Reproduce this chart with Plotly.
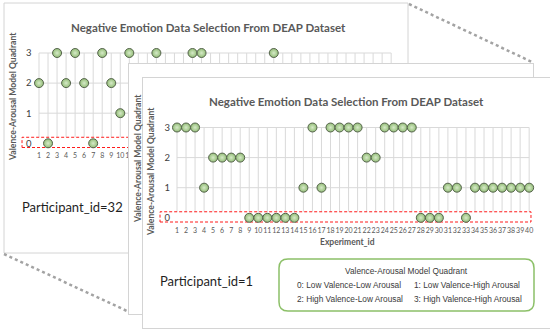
import plotly.graph_objects as go

W, H = 550, 332

# ---------------- data ----------------
experiments = list(range(1, 41))
quadrant_levels = [0, 1, 2, 3]
tick_labels = [str(e) for e in experiments]

# participant 1 (front chart) – quadrant per experiment
participant_1 = [3, 3, 3, 1, 2, 2, 2, 2, 0, 0,
                 0, 0, 0, 0, 1, 3, 1, 3, 3, 3,
                 3, 2, 2, 3, 3, 3, 3, 0, 0, 0,
                 1, 1, 0, 1, 1, 1, 1, 1, 1, 1]
# participant 32 (back chart) – only the visible points; hidden ones None
participant_32 = [2, 0, 3, 2, 3, 2, 0, 3, 2, 1,
                  3, None, None, 3, None, None, None, 3, 3, None,
                  None, None, None, None, None, None, 3, None, None, None,
                  None, None, None, None, None, None, None, None, None, None]

title_text = "Negative Emotion Data Selection From DEAP Dataset"
ytitle_text = "Valence-Arousal Model Quadrant"
xtitle_text = "Experiment_id"
legend_title = "Valence-Arousal Model Quadrant"
legend_items = ["0: Low Valence-Low Arousal", "1: Low Valence-High Arousal",
                "2: High Valence-Low Arousal", "3: High Valence-High Arousal"]

# ---------------- geometry helpers ----------------
SPX, SPY = 9.03, 30.1
XR = [-1.0, 40.4]
YR = [-0.2, 3.2]
BOX_X = [-0.88, 40.2]
BOX_Y = [-0.14, 0.2]


def px(x):
    return x / W


def py(y):
    return 1 - y / H


def dom_x(a, b):
    return [a / W, b / W]


def dom_y(top, bottom):
    return [1 - bottom / H, 1 - top / H]


def chart_domain(x1, y3):
    left = x1 - (1 - XR[0]) * SPX
    right = x1 + (XR[1] - 1) * SPX
    top = y3 - (YR[1] - 3) * SPY
    bottom = y3 + (3 - YR[0]) * SPY
    return dom_x(left, right), dom_y(top, bottom)


GRID = "#d9d9d9"
TXT = "#595959"
FONT = "Lato"

fig = go.Figure()


def add_chart(values, xa, ya):
    xs, ys = [], []
    for e in experiments:
        xs += [e, e, None]
        ys += [min(quadrant_levels), max(quadrant_levels), None]
    for q in quadrant_levels:
        xs += [experiments[0], experiments[-1], None]
        ys += [q, q, None]
    fig.add_trace(go.Scatter(x=xs, y=ys, mode="lines", xaxis=xa, yaxis=ya,
                             line=dict(color=GRID, width=1), hoverinfo="skip",
                             showlegend=False))
    fig.add_trace(go.Scatter(x=[BOX_X[0], BOX_X[1], BOX_X[1], BOX_X[0], BOX_X[0]],
                             y=[BOX_Y[0], BOX_Y[0], BOX_Y[1], BOX_Y[1], BOX_Y[0]],
                             mode="lines", fill="toself", fillcolor="white",
                             line=dict(color="#ff1a1a", width=1, dash="3px,2px"),
                             xaxis=xa, yaxis=ya, hoverinfo="skip", showlegend=False))
    fig.add_trace(go.Scatter(x=experiments, y=values, mode="markers",
                             xaxis=xa, yaxis=ya, cliponaxis=False,
                             marker=dict(size=9, color="#93bd77",
                                         gradient=dict(type="radial", color="#d6eac8"),
                                         line=dict(color="#55634c", width=1)),
                             showlegend=False))


def add_cover(xa, ya):
    fig.add_trace(go.Scatter(x=[None], y=[None], xaxis=xa, yaxis=ya,
                             showlegend=False, hoverinfo="skip"))


add_chart(participant_32, "x", "y")
add_cover("x2", "y2")
add_cover("x3", "y3")
add_chart(participant_1, "x4", "y4")

cover_axis = dict(range=[0, 1], showgrid=False, zeroline=False, showticklabels=False,
                  ticks="", showline=True, mirror=True, linecolor="#d4d4d4", linewidth=1,
                  fixedrange=True, automargin=False)


def chart_axes(x1, y3, ylab_pos):
    dx, dy = chart_domain(x1, y3)
    xaxis = dict(domain=dx, range=XR, showgrid=False, zeroline=False, showline=False,
                 tickmode="array", tickvals=experiments, ticktext=tick_labels,
                 tickangle=0, automargin=False,
                 tickfont=dict(family=FONT, size=7, color=TXT),
                 ticks="", ticklabelstandoff=1)
    yaxis = dict(domain=dy, range=YR, showgrid=False, zeroline=False, showline=False,
                 tickmode="array", tickvals=quadrant_levels,
                 ticktext=[str(q) for q in quadrant_levels], automargin=False,
                 tickfont=dict(family=FONT, size=9.5, color="#404040"),
                 ticks="", anchor="free", position=px(ylab_pos))
    return xaxis, yaxis


xa1, ya1 = chart_axes(39, 53, 31.5)
xa4, ya4 = chart_axes(177, 127.5, 170)
xa1["anchor"] = "y"
xa4["anchor"] = "y4"

layout = dict(
    width=W, height=H, margin=dict(l=0, r=0, t=0, b=0, autoexpand=False),
    paper_bgcolor="white", plot_bgcolor="white", showlegend=False,
    xaxis=xa1, yaxis=ya1,
    xaxis2=dict(cover_axis, domain=dom_x(129, 533), anchor="y2"),
    yaxis2=dict(cover_axis, domain=dom_y(64, 314), anchor="x2"),
    xaxis3=dict(cover_axis, domain=dom_x(142.5, 549.5), anchor="y3"),
    yaxis3=dict(cover_axis, domain=dom_y(78, 328), anchor="x3"),
    xaxis4=xa4, yaxis4=ya4,
)
fig.update_layout(**layout)

# ---------------- annotations ----------------
ann = []


def text(x, y, s, size, color, bold=False, family=FONT, angle=0, xanchor="center"):
    ann.append(dict(x=px(x), y=py(y), xref="paper", yref="paper", text=s,
                    showarrow=False, textangle=angle, xanchor=xanchor, yanchor="middle",
                    borderpad=0,
                    font=dict(family=family, size=size, color=color,
                              weight="bold" if bold else "normal")))


text(208, 27, title_text, 11.5, TXT, bold=True)
text(346, 101.5, title_text, 11.5, TXT, bold=True)
text(13, 97, ytitle_text, 8.6, TXT, bold=True, angle=-90)
text(150.5, 171.5, ytitle_text, 8.6, TXT, bold=True, angle=-90)
# middle (shadow) panel y-title peeking out
text(138, 159, ytitle_text, 8.6, TXT, bold=True, angle=-90)

text(347, 242, xtitle_text, 8.5, TXT, bold=True)
text(72, 207, "Participant_id=32", 13, "#1f1f1f")
text(206.5, 281, "Participant_id=1", 13, "#1f1f1f")

LEG_FONT = "Liberation Sans"
text(406.5, 271, legend_title, 8.3, "#3a3a3a", family=LEG_FONT)
text(296, 285, legend_items[0], 8.3, "#3a3a3a", family=LEG_FONT, xanchor="left")
text(413, 285, legend_items[1], 8.3, "#3a3a3a", family=LEG_FONT, xanchor="left")
text(296, 299, legend_items[2], 8.3, "#3a3a3a", family=LEG_FONT, xanchor="left")
text(413, 299, legend_items[3], 8.3, "#3a3a3a", family=LEG_FONT, xanchor="left")
fig.update_layout(annotations=ann)

# ---------------- shapes ----------------
shapes = []
# back panel frame
shapes.append(dict(type="rect", xref="paper", yref="paper", layer="below",
                   x0=px(4), x1=px(408), y0=py(253), y1=py(3),
                   line=dict(color="#d4d4d4", width=1), fillcolor="rgba(0,0,0,0)"))
# dotted connector lines
for (a, b, c, d) in [(4, 254, 127, 311), (409, 4, 532, 62)]:
    shapes.append(dict(type="line", xref="paper", yref="paper", layer="below",
                       x0=px(a), y0=py(b), x1=px(c), y1=py(d),
                       line=dict(color="#a3a3a3", width=2.5, dash="dot")))
# rounded legend box
L, R, T, B, r = 279, 534, 259, 311, 9
path = (f"M {px(L + r)} {py(T)} L {px(R - r)} {py(T)} Q {px(R)} {py(T)} {px(R)} {py(T + r)} "
        f"L {px(R)} {py(B - r)} Q {px(R)} {py(B)} {px(R - r)} {py(B)} "
        f"L {px(L + r)} {py(B)} Q {px(L)} {py(B)} {px(L)} {py(B - r)} "
        f"L {px(L)} {py(T + r)} Q {px(L)} {py(T)} {px(L + r)} {py(T)} Z")
shapes.append(dict(type="path", xref="paper", yref="paper", layer="above", path=path,
                   line=dict(color="#8cc068", width=1.5), fillcolor="rgba(0,0,0,0)"))
fig.update_layout(shapes=shapes)

fig.write_html("out.html", config={"displayModeBar": False},
               post_script="document.body.style.margin='0';document.body.style.overflow='hidden';")
